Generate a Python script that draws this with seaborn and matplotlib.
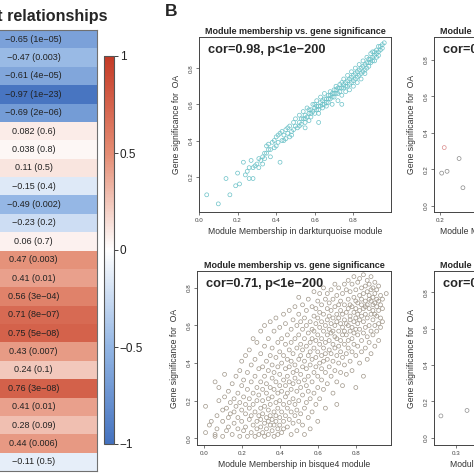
import numpy as np
import seaborn as sns
import matplotlib.pyplot as plt
from matplotlib.colors import LinearSegmentedColormap

# A: module-trait correlations (one column) and p-values
trait_cor = [-0.65, -0.47, -0.61, -0.97, -0.69, 0.082, 0.038, 0.11, -0.15, -0.49, -0.23, 0.06,
             0.47, 0.41, 0.56, 0.71, 0.75, 0.43, 0.24, 0.76, 0.41, 0.28, 0.44, -0.11]
trait_p = ["1e-05", "0.003", "4e-05", "1e-23", "2e-06", "0.6", "0.8", "0.5", "0.4", "0.002", "0.2", "0.7",
           "0.003", "0.01", "3e-04", "8e-07", "5e-08", "0.007", "0.1", "3e-08", "0.01", "0.09", "0.006", "0.5"]
cbar_ticks = [-1, -0.5, 0, 0.5, 1]
cbar_labels = ["\u22121", "\u22120.5", "0", "0.5", "1"]

# B: module membership (x) vs gene significance (y)
turquoise_pts = [
    (0.04, 0.10), (0.10, 0.05), (0.14, 0.19), (0.16, 0.10), (0.19, 0.15), (0.20, 0.22), (0.21, 0.16),
    (0.23, 0.28), (0.24, 0.21), (0.25, 0.23), (0.26, 0.19), (0.27, 0.29), (0.28, 0.19), (0.29, 0.26),
    (0.30, 0.27), (0.31, 0.25), (0.32, 0.29), (0.33, 0.31), (0.34, 0.30), (0.35, 0.37), (0.35, 0.33),
    (0.36, 0.35), (0.37, 0.35), (0.37, 0.31), (0.38, 0.39), (0.39, 0.36), (0.40, 0.37), (0.40, 0.42),
    (0.41, 0.39), (0.42, 0.28), (0.42, 0.44), (0.43, 0.40), (0.44, 0.43), (0.45, 0.46), (0.45, 0.41),
    (0.46, 0.44), (0.47, 0.48), (0.47, 0.42), (0.48, 0.45), (0.49, 0.50), (0.49, 0.46), (0.50, 0.48),
    (0.50, 0.52), (0.51, 0.47), (0.52, 0.50), (0.52, 0.54), (0.53, 0.49), (0.54, 0.52), (0.54, 0.56),
    (0.55, 0.50), (0.55, 0.54), (0.56, 0.53), (0.56, 0.58), (0.57, 0.55), (0.57, 0.51), (0.58, 0.57),
    (0.58, 0.53), (0.59, 0.60), (0.59, 0.56), (0.60, 0.55), (0.60, 0.58), (0.61, 0.62), (0.61, 0.57),
    (0.62, 0.59), (0.62, 0.55), (0.63, 0.61), (0.63, 0.64), (0.64, 0.58), (0.64, 0.62), (0.65, 0.60),
    (0.65, 0.66), (0.66, 0.63), (0.66, 0.59), (0.67, 0.65), (0.67, 0.61), (0.68, 0.67), (0.68, 0.63),
    (0.69, 0.60), (0.69, 0.66), (0.70, 0.68), (0.70, 0.64), (0.71, 0.70), (0.71, 0.66), (0.72, 0.62),
    (0.72, 0.69), (0.73, 0.71), (0.73, 0.67), (0.74, 0.65), (0.74, 0.72), (0.75, 0.69), (0.75, 0.74),
    (0.76, 0.70), (0.76, 0.67), (0.77, 0.73), (0.77, 0.76), (0.78, 0.71), (0.78, 0.68), (0.79, 0.75),
    (0.79, 0.78), (0.80, 0.73), (0.80, 0.70), (0.81, 0.77), (0.81, 0.80), (0.82, 0.75), (0.82, 0.72),
    (0.83, 0.79), (0.83, 0.82), (0.84, 0.77), (0.84, 0.74), (0.85, 0.81), (0.85, 0.84), (0.86, 0.79),
    (0.86, 0.77), (0.87, 0.83), (0.87, 0.86), (0.88, 0.81), (0.88, 0.85), (0.89, 0.88), (0.89, 0.83),
    (0.90, 0.86), (0.90, 0.89), (0.91, 0.84), (0.91, 0.87), (0.92, 0.90), (0.92, 0.86), (0.93, 0.89),
    (0.93, 0.92), (0.94, 0.90), (0.95, 0.93), (0.95, 0.91), (0.96, 0.94),
    (0.52, 0.48), (0.53, 0.52), (0.55, 0.52), (0.57, 0.57), (0.58, 0.55), (0.60, 0.60), (0.61, 0.59),
    (0.62, 0.57), (0.63, 0.59), (0.64, 0.60), (0.65, 0.63), (0.66, 0.61), (0.67, 0.63), (0.68, 0.65),
    (0.69, 0.64), (0.70, 0.66), (0.71, 0.68), (0.72, 0.66), (0.73, 0.69), (0.74, 0.69), (0.75, 0.71),
    (0.76, 0.72), (0.77, 0.70), (0.78, 0.74), (0.79, 0.72), (0.80, 0.76), (0.81, 0.74), (0.82, 0.78),
    (0.83, 0.76), (0.84, 0.80), (0.85, 0.78), (0.86, 0.82), (0.87, 0.80), (0.88, 0.83), (0.89, 0.85),
    (0.90, 0.84), (0.91, 0.89), (0.92, 0.88), (0.93, 0.87), (0.94, 0.92), (0.48, 0.43), (0.46, 0.47),
    (0.44, 0.40), (0.43, 0.45), (0.41, 0.43), (0.39, 0.40), (0.36, 0.38), (0.34, 0.33), (0.33, 0.27),
    (0.31, 0.30), (0.28, 0.25), (0.26, 0.25), (0.62, 0.50), (0.74, 0.60), (0.55, 0.47),
]

# bisque4 module: membership value with the gene significances seen at it
bisque_cols = [
    (0.01, [0.17, 0.03]), (0.03, [0.07]), (0.04, [0.09]), (0.06, [0.01, 0.30, 0.02]),
    (0.07, [0.12, 0.05]), (0.08, [0.20, 0.27]), (0.10, [0.15, 0.09, 0.01]), (0.11, [0.34, 0.22]),
    (0.12, [0.16, 0.04]), (0.13, [0.11, 0.25, 0.06]), (0.14, [0.19, 0.13]), (0.15, [0.29, 0.02]),
    (0.16, [0.21, 0.08, 0.14]), (0.17, [0.33, 0.17]), (0.18, [0.05, 0.24, 0.11]),
    (0.19, [0.36, 0.19, 0.01]), (0.20, [0.28, 0.09, 0.15, 0.41]), (0.21, [0.22, 0.04, 0.31]),
    (0.22, [0.13, 0.44, 0.18, 0.06]), (0.23, [0.26, 0.35, 0.01]), (0.24, [0.10, 0.21, 0.47, 0.16]),
    (0.25, [0.30, 0.03, 0.39, 0.12]), (0.26, [0.07, 0.24, 0.53, 0.18]), (0.27, [0.33, 0.14, 0.01, 0.42]),
    (0.28, [0.09, 0.27, 0.20, 0.51, 0.05]), (0.29, [0.37, 0.12, 0.02, 0.23]),
    (0.30, [0.16, 0.45, 0.06, 0.30, 0.10, 0.57]), (0.31, [0.03, 0.20, 0.38, 0.13, 0.26]),
    (0.32, [0.08, 0.33, 0.49, 0.17, 0.01, 0.60]), (0.33, [0.11, 0.24, 0.41, 0.05, 0.29]),
    (0.34, [0.15, 0.36, 0.02, 0.53, 0.21, 0.09]), (0.35, [0.27, 0.07, 0.44, 0.12, 0.62, 0.18]),
    (0.36, [0.04, 0.32, 0.22, 0.48, 0.10, 0.39]), (0.37, [0.14, 0.57, 0.01, 0.26, 0.07, 0.35]),
    (0.38, [0.19, 0.43, 0.09, 0.30, 0.64, 0.12]), (0.39, [0.05, 0.24, 0.51, 0.16, 0.38, 0.02]),
    (0.40, [0.28, 0.11, 0.46, 0.20, 0.59, 0.07, 0.34]), (0.41, [0.14, 0.40, 0.03, 0.25, 0.53]),
    (0.42, [0.09, 0.31, 0.18, 0.66, 0.44, 0.05]), (0.43, [0.22, 0.37, 0.12, 0.50, 0.28, 0.61]),
    (0.44, [0.06, 0.16, 0.42, 0.33, 0.55, 0.24]), (0.45, [0.19, 0.47, 0.10, 0.30, 0.68, 0.38]),
    (0.46, [0.02, 0.26, 0.58, 0.14, 0.41, 0.51]), (0.47, [0.21, 0.35, 0.08, 0.63, 0.45, 0.29]),
    (0.48, [0.12, 0.53, 0.39, 0.18, 0.70, 0.32]), (0.49, [0.25, 0.04, 0.48, 0.60, 0.36, 0.15]),
    (0.50, [0.42, 0.20, 0.66, 0.30, 0.55, 0.09, 0.75]), (0.51, [0.34, 0.13, 0.50, 0.27, 0.62, 0.44]),
    (0.52, [0.23, 0.58, 0.38, 0.07, 0.71, 0.47]), (0.53, [0.16, 0.41, 0.64, 0.31, 0.53, 0.02]),
    (0.54, [0.28, 0.49, 0.19, 0.68, 0.37, 0.60]), (0.55, [0.11, 0.44, 0.56, 0.33, 0.74, 0.25]),
    (0.56, [0.39, 0.62, 0.21, 0.51, 0.05, 0.46]), (0.57, [0.30, 0.58, 0.42, 0.70, 0.14, 0.53]),
    (0.58, [0.48, 0.35, 0.65, 0.24, 0.57, 0.78]), (0.59, [0.18, 0.43, 0.61, 0.52, 0.38, 0.69]),
    (0.60, [0.27, 0.55, 0.46, 0.73, 0.33, 0.64, 0.09]), (0.61, [0.40, 0.59, 0.50, 0.67, 0.21, 0.77]),
    (0.62, [0.31, 0.53, 0.44, 0.62, 0.71, 0.37]), (0.63, [0.48, 0.26, 0.66, 0.57, 0.80, 0.41]),
    (0.64, [0.35, 0.60, 0.51, 0.74, 0.16, 0.45]), (0.65, [0.55, 0.42, 0.69, 0.29, 0.63, 0.77]),
    (0.66, [0.47, 0.58, 0.38, 0.72, 0.52, 0.65]), (0.67, [0.33, 0.61, 0.45, 0.79, 0.56, 0.68]),
    (0.68, [0.50, 0.24, 0.64, 0.41, 0.74, 0.57]), (0.69, [0.60, 0.36, 0.70, 0.48, 0.82, 0.54]),
    (0.70, [0.44, 0.66, 0.53, 0.76, 0.30, 0.62, 0.18]), (0.71, [0.57, 0.40, 0.71, 0.49, 0.80, 0.64]),
    (0.72, [0.35, 0.61, 0.52, 0.73, 0.46, 0.68]), (0.73, [0.59, 0.43, 0.77, 0.55, 0.66, 0.28]),
    (0.74, [0.50, 0.63, 0.39, 0.71, 0.82, 0.57]), (0.75, [0.45, 0.67, 0.55, 0.79, 0.61, 0.34]),
    (0.76, [0.60, 0.48, 0.74, 0.52, 0.69, 0.84]), (0.77, [0.41, 0.65, 0.57, 0.78, 0.63, 0.71]),
    (0.78, [0.53, 0.70, 0.46, 0.82, 0.59, 0.36]), (0.79, [0.62, 0.75, 0.50, 0.67, 0.86, 0.56]),
    (0.80, [0.44, 0.69, 0.58, 0.79, 0.64, 0.73, 0.27]), (0.81, [0.55, 0.72, 0.61, 0.83, 0.49, 0.66]),
    (0.82, [0.68, 0.40, 0.76, 0.58, 0.85, 0.63]), (0.83, [0.52, 0.71, 0.65, 0.80, 0.46, 0.74]),
    (0.84, [0.62, 0.77, 0.56, 0.69, 0.87, 0.33]), (0.85, [0.48, 0.73, 0.66, 0.81, 0.59, 0.70]),
    (0.86, [0.64, 0.78, 0.54, 0.84, 0.71, 0.42]), (0.87, [0.69, 0.60, 0.76, 0.82, 0.51, 0.74]),
    (0.88, [0.57, 0.73, 0.66, 0.86, 0.79, 0.45]), (0.89, [0.71, 0.63, 0.80, 0.55, 0.75, 0.68]),
    (0.90, [0.77, 0.60, 0.83, 0.49, 0.72, 0.66]), (0.91, [0.65, 0.79, 0.57, 0.74, 0.70]),
    (0.92, [0.73, 0.61, 0.81, 0.68, 0.52]), (0.93, [0.76, 0.64, 0.71, 0.59]),
    (0.94, [0.69, 0.74, 0.62]), (0.96, [0.77]),
]

# partly visible right-hand panels
tr_mm = [0.207, 0.228, 0.275, 0.290]
tr_gs = [0.18, 0.19, 0.26, 0.10]
tr_pink = (0.217, 0.32)
br_mm = [0.261, 0.329]
br_gs = [0.12, 0.15]
br_pink = (0.360, 0.365)

sns.set_style("white")
plt.rcParams["font.family"] = ["Liberation Sans", "DejaVu Sans"]

W = H = 474


def place(l, t, r, b):
    # pixel box -> figure fraction
    return [l / W, 1 - b / H, (r - l) / W, (b - t) / H]


fig = plt.figure(figsize=(4.74, 4.74), dpi=100)

# ---- A: heatmap column ----
cmap = LinearSegmentedColormap.from_list(
    "bwr_wgcna", [(0.0, "#4472bf"), (0.25, "#93b6e4"), (0.5, "#ffffff"), (0.75, "#e48c73"), (1.0, "#c43a26")])
hm_ax = fig.add_axes(place(-30, 30, 97, 471))
cb_ax = fig.add_axes(place(104, 56, 114, 444))
annot = [f"{c:g} ({p})".replace("-", "\u2212") for c, p in zip(trait_cor, trait_p)]
sns.heatmap(np.array(trait_cor).reshape(-1, 1), ax=hm_ax, cbar_ax=cb_ax, cmap=cmap, vmin=-1, vmax=1,
            annot=np.array(annot).reshape(-1, 1), fmt="", annot_kws={"size": 6.5, "color": "#222222"},
            xticklabels=False, yticklabels=False)
for s in hm_ax.spines.values():
    s.set_visible(True)
    s.set_color("#707070")
    s.set_linewidth(0.8)
cb = hm_ax.collections[0].colorbar
cb.set_ticks(cbar_ticks)
cb.set_ticklabels(cbar_labels)
cb.outline.set_edgecolor("#555555")
cb.outline.set_linewidth(0.8)
cb_ax.tick_params(length=3, width=0.6, labelsize=8.5, pad=1, colors="#222222")
fig.text(108 / W, 1 - 17 / H, "Module-trait relationships", ha="right", va="center",
         fontsize=11.6, fontweight="bold")

# ---- B: scatter panels ----
fig.text(171 / W, 1 - 12 / H, "B", ha="center", va="center", fontsize=12.5, fontweight="bold")


def mm_panel(box, x, y, col, xlim, ylim, xticks, module, cor_txt, extra=None):
    ax = fig.add_axes(place(*box))
    sns.scatterplot(x=x, y=y, ax=ax, s=8, marker="o", linewidth=0.5)
    ax.collections[-1].set_facecolor("none")
    ax.collections[-1].set_edgecolor(col)
    if extra is not None:
        sns.scatterplot(x=[extra[0]], y=[extra[1]], ax=ax, s=8, marker="o", linewidth=0.5)
        ax.collections[-1].set_facecolor("none")
        ax.collections[-1].set_edgecolor("#d98a8a")
    ax.set_xlim(xlim)
    ax.set_ylim(ylim)
    ax.set_xticks(xticks)
    ax.set_yticks([t for t in [0.0, 0.2, 0.4, 0.6, 0.8] if t >= ylim[0]])
    ax.xaxis.set_major_formatter(lambda v, p: f"{v:.1f}")
    ax.yaxis.set_major_formatter(lambda v, p: f"{v:.1f}")
    for s in ax.spines.values():
        s.set_color("#444444")
        s.set_linewidth(0.7)
    ax.tick_params(direction="out", length=2.5, width=0.5, labelsize=4.5, pad=1.5,
                   colors="#444444", bottom=True, left=True)
    ax.tick_params(axis="y", labelrotation=90)
    for lbl in ax.get_yticklabels():
        lbl.set_va("center")
    ax.set_title("Module membership vs. gene significance", fontsize=6.5, fontweight="bold", pad=2.5)
    ax.set_xlabel(f"Module Membership in {module} module", fontsize=6.2, color="#333333")
    ax.set_ylabel("Gene significance for  OA", fontsize=6.2, color="#333333")
    ax.xaxis.set_label_coords(0.5, -0.085)
    ax.yaxis.set_label_coords(-0.095, 0.5)
    ax.text(0.047, 0.925, cor_txt, transform=ax.transAxes, ha="left", va="center",
            fontsize=9.2, fontweight="bold")
    return ax


tl_mm, tl_gs = zip(*turquoise_pts)
mm_panel((199, 37, 391, 212), list(tl_mm), list(tl_gs), "#6cc2c8", (0.0, 0.995), (0.005, 0.972),
         [0.0, 0.2, 0.4, 0.6, 0.8], "darkturquoise", "cor=0.98, p<1e\u2212200")

bl_mm = [c[0] for c in bisque_cols for _ in c[1]]
bl_gs = [g for c in bisque_cols for g in c[1]]
mm_panel((197, 271, 391, 445), bl_mm, bl_gs, "#a0978a", (-0.035, 0.985), (-0.036, 0.89),
         [0.0, 0.2, 0.4, 0.6, 0.8], "bisque4", "cor=0.71, p<1e\u2212200")

mm_panel((434, 37, 626, 212), tr_mm, tr_gs, "#8a8a8a", (0.177, 0.927), (-0.033, 0.926),
         [0.2, 0.4, 0.6, 0.8], "lavenderblush3", "cor=0.61, p=0.06", extra=tr_pink)
mm_panel((434, 271, 626, 445), br_mm, br_gs, "#8f8f8f", (0.243, 0.743), (-0.04, 0.917),
         [0.3, 0.4, 0.5, 0.6, 0.7], "mistyrose", "cor=0.66, p=0.04", extra=br_pink)

fig.savefig("out.png", dpi=100)
